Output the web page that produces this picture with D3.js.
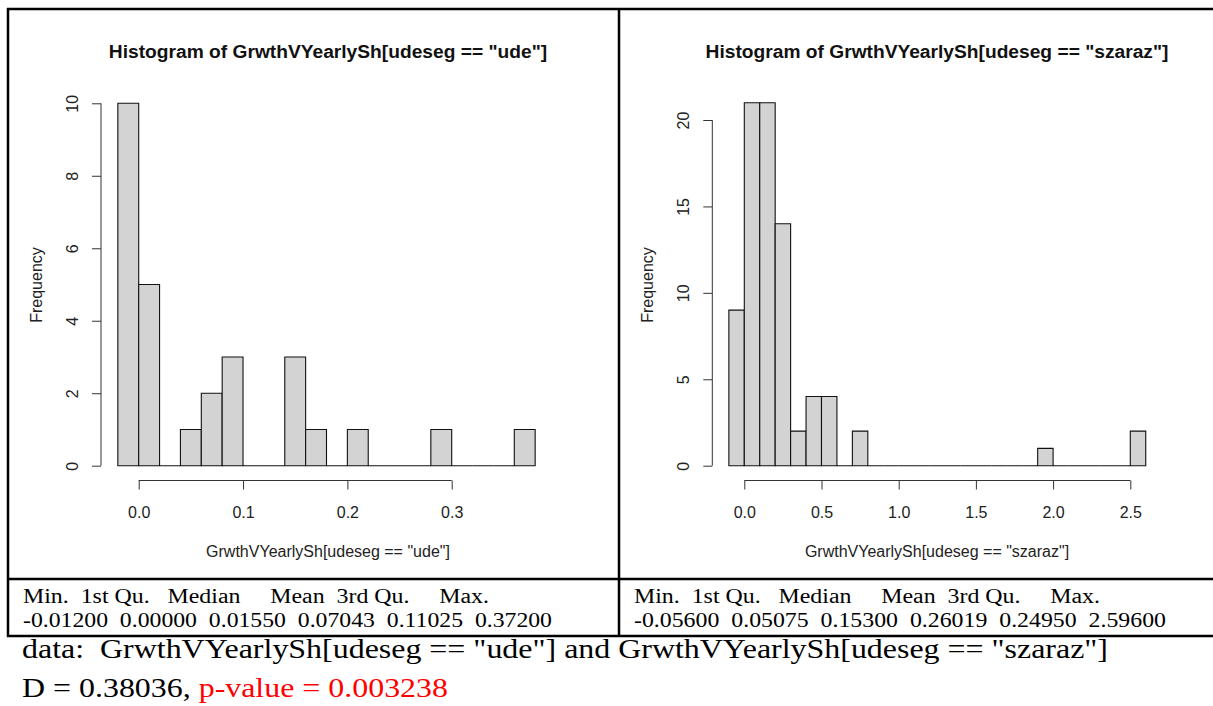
<!DOCTYPE html>
<html>
<head>
<meta charset="utf-8">
<script src="https://cdn.jsdelivr.net/npm/d3@7"></script>
<style>
  html, body { margin: 0; padding: 0; background: #fff; }
  svg { display: block; }
</style>
</head>
<body>
<svg id="chart" width="1213" height="706"></svg>
<script>
// Histogram of GrwthVYearlySh for the "ude" group
const udeBreaks = [-0.02, 0, 0.02, 0.04, 0.06, 0.08, 0.10, 0.12, 0.14, 0.16, 0.18,
                   0.20, 0.22, 0.24, 0.26, 0.28, 0.30, 0.32, 0.34, 0.36, 0.38];
const udeCounts = [10, 5, 0, 1, 2, 3, 0, 0, 3, 1, 0, 1, 0, 0, 0, 1, 0, 0, 0, 1];
const udeXTicks = [0, 0.1, 0.2, 0.3];
const udeYTicks = [0, 2, 4, 6, 8, 10];

// Histogram of GrwthVYearlySh for the "szaraz" group
const szarazBreaks = [-0.1, 0, 0.1, 0.2, 0.3, 0.4, 0.5, 0.6, 0.7, 0.8, 0.9, 1.0, 1.1, 1.2,
                      1.3, 1.4, 1.5, 1.6, 1.7, 1.8, 1.9, 2.0, 2.1, 2.2, 2.3, 2.4, 2.5, 2.6];
const szarazCounts = [9, 21, 21, 14, 2, 4, 4, 0, 2, 0, 0, 0, 0, 0, 0, 0, 0, 0, 0, 0,
                      1, 0, 0, 0, 0, 0, 2];
const szarazXTicks = [0, 0.5, 1.0, 1.5, 2.0, 2.5];
const szarazYTicks = [0, 5, 10, 15, 20];

// summary() output under each histogram
const summaryHeader = "Min.  1st Qu.   Median     Mean  3rd Qu.     Max.";
const udeSummary = ["-0.01200", "0.00000", "0.01550", "0.07043", "0.11025", "0.37200"];
const szarazSummary = ["-0.05600", "0.05075", "0.15300", "0.26019", "0.24950", "2.59600"];

// Kolmogorov-Smirnov test result
const ksData = 'data:  GrwthVYearlySh[udeseg == "ude"] and GrwthVYearlySh[udeseg == "szaraz"]';
const ksD = "D = 0.38036, ";
const ksP = "p-value = 0.003238";

const svg = d3.select("#chart");
const SANS = "'Liberation Sans', Arial, sans-serif";
const SERIF = "'Liberation Serif', 'Times New Roman', serif";
const LAB = 16;      // axis & tick labels
const MAIN = 19.2;   // panel titles

function fmtTick(step) {
  const decimals = step < 1 ? 1 : 0;
  return d => d3.format("." + decimals + "f")(d);
}

function drawHistogram(cfg) {
  const g = svg.append("g");
  const x = d3.scaleLinear().domain(cfg.xDomain).range(cfg.xRange);
  const y = d3.scaleLinear().domain(cfg.yDomain).range(cfg.yRange);
  const bins = cfg.counts.map((c, i) => ({ x0: cfg.breaks[i], x1: cfg.breaks[i + 1], n: c }));

  // bars drawn as closed outlines so empty bins still show on the baseline
  g.selectAll("path.bar").data(bins).join("path")
    .attr("class", "bar")
    .attr("d", d => {
      const p = d3.path();
      p.moveTo(x(d.x0), y(0));
      p.lineTo(x(d.x0), y(d.n));
      p.lineTo(x(d.x1), y(d.n));
      p.lineTo(x(d.x1), y(0));
      p.closePath();
      return p.toString();
    })
    .attr("fill", "#d3d3d3")
    .attr("stroke", "#111")
    .attr("stroke-width", 1.1);

  const axisY = cfg.axisY;      // baseline of x-axis
  const axisX = cfg.axisX;      // position of y-axis
  const tick = 9;

  // x axis
  const xAxis = g.append("g").attr("transform", `translate(0,${axisY})`)
    .call(d3.axisBottom(x).tickValues(cfg.xTicks).tickSize(tick).tickSizeOuter(0)
      .tickFormat(fmtTick(cfg.xTicks[1] - cfg.xTicks[0])));
  xAxis.select(".domain").remove();
  xAxis.append("line")
    .attr("x1", x(cfg.xTicks[0])).attr("x2", x(cfg.xTicks[cfg.xTicks.length - 1]))
    .attr("stroke", "#333");
  xAxis.selectAll(".tick line").attr("stroke", "#333");
  xAxis.selectAll(".tick text")
    .attr("y", 37).attr("dy", null)
    .attr("font-family", SANS).attr("font-size", LAB).attr("fill", "#222");

  // y axis (labels parallel to the axis)
  const yAxis = g.append("g").attr("transform", `translate(${axisX},0)`)
    .call(d3.axisLeft(y).tickValues(cfg.yTicks).tickSize(tick).tickSizeOuter(0)
      .tickFormat(d3.format("d")));
  yAxis.select(".domain").remove();
  yAxis.append("line")
    .attr("y1", y(cfg.yTicks[0])).attr("y2", y(cfg.yTicks[cfg.yTicks.length - 1]))
    .attr("stroke", "#333");
  yAxis.selectAll(".tick line").attr("stroke", "#333");
  yAxis.selectAll(".tick text")
    .attr("transform", "rotate(-90)")
    .attr("x", 0).attr("y", -23).attr("dy", null)
    .attr("text-anchor", "middle")
    .attr("font-family", SANS).attr("font-size", LAB).attr("fill", "#222");

  const cx = cfg.plotCenterX;
  // title
  g.append("text")
    .attr("x", cx).attr("y", 58)
    .attr("text-anchor", "middle")
    .attr("font-family", SANS).attr("font-weight", "bold").attr("font-size", MAIN)
    .attr("fill", "#111")
    .text(cfg.title);
  // x label
  g.append("text")
    .attr("x", cx).attr("y", 557)
    .attr("text-anchor", "middle")
    .attr("font-family", SANS).attr("font-size", LAB).attr("fill", "#222")
    .text(cfg.xLabel);
  // y label
  g.append("text")
    .attr("transform", `translate(${axisX - 59},285) rotate(-90)`)
    .attr("text-anchor", "middle")
    .attr("font-family", SANS).attr("font-size", LAB).attr("fill", "#222")
    .text("Frequency");
}

drawHistogram({
  breaks: udeBreaks, counts: udeCounts, xTicks: udeXTicks, yTicks: udeYTicks,
  xDomain: [0, 0.3], xRange: [138.7, 451.7],
  yDomain: [0, 10], yRange: [465.7, 103.3],
  axisY: 480.5, axisX: 101, plotCenterX: 328,
  title: 'Histogram of GrwthVYearlySh[udeseg == "ude"]',
  xLabel: 'GrwthVYearlySh[udeseg == "ude"]'
});

drawHistogram({
  breaks: szarazBreaks, counts: szarazCounts, xTicks: szarazXTicks, yTicks: szarazYTicks,
  xDomain: [0, 2.5], xRange: [744.3, 1130.3],
  yDomain: [0, 20], yRange: [465.7, 120],
  axisY: 480.5, axisX: 712.3, plotCenterX: 937,
  title: 'Histogram of GrwthVYearlySh[udeseg == "szaraz"]',
  xLabel: 'GrwthVYearlySh[udeseg == "szaraz"]'
});

// table frame
const frame = svg.append("g").attr("stroke", "#000").attr("stroke-width", 2.5);
frame.append("line").attr("x1", 7).attr("x2", 1213).attr("y1", 9).attr("y2", 9);
frame.append("line").attr("x1", 8).attr("x2", 8).attr("y1", 8).attr("y2", 637);
frame.append("line").attr("x1", 619).attr("x2", 619).attr("y1", 8).attr("y2", 637);
frame.append("line").attr("x1", 7).attr("x2", 1213).attr("y1", 579).attr("y2", 579);
frame.append("line").attr("x1", 7).attr("x2", 1213).attr("y1", 636).attr("y2", 636);

// summary text (console output, widened to the cell)
function summaryBlock(x0, values, headWidth, rowWidth) {
  const t = svg.append("g").attr("font-family", SERIF).attr("font-size", 20.5).attr("fill", "#000");
  t.append("text").attr("x", x0).attr("y", 602.5)
    .attr("xml:space", "preserve").style("white-space", "pre")
    .attr("textLength", headWidth).attr("lengthAdjust", "spacingAndGlyphs")
    .text(summaryHeader);
  t.append("text").attr("x", x0).attr("y", 627)
    .attr("xml:space", "preserve").style("white-space", "pre")
    .attr("textLength", rowWidth).attr("lengthAdjust", "spacingAndGlyphs")
    .text(values.join("  "));
}
summaryBlock(23, udeSummary, 466, 529);
summaryBlock(634, szarazSummary, 466, 532);

// test result
const res = svg.append("g").attr("font-family", SERIF).attr("font-size", 27.5);
res.append("text").attr("x", 22).attr("y", 658)
  .attr("xml:space", "preserve").style("white-space", "pre")
  .attr("textLength", 1086).attr("lengthAdjust", "spacingAndGlyphs")
  .attr("fill", "#000").text(ksData);
const dRow = res.append("text").attr("x", 22).attr("y", 697)
  .attr("xml:space", "preserve").style("white-space", "pre")
  .attr("textLength", 426).attr("lengthAdjust", "spacingAndGlyphs");
dRow.append("tspan").attr("fill", "#000").text(ksD);
dRow.append("tspan").attr("fill", "#ff0000").text(ksP);
</script>
</body>
</html>
